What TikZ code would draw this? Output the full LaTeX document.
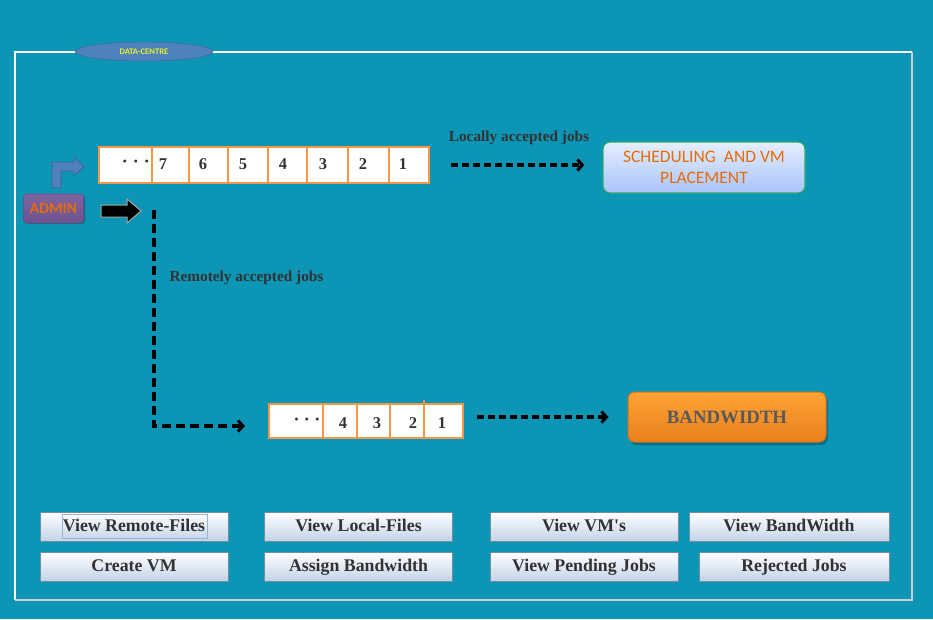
\documentclass[tikz,border=0pt]{standalone}
\usepackage{fontspec}
\setmainfont{Liberation Serif}
\newfontfamily\calib{Carlito}
\usetikzlibrary{arrows.meta,shapes.geometric}
\definecolor{bgc}{RGB}{12,149,180}
\definecolor{qorange}{RGB}{247,150,70}
\definecolor{txtgray}{RGB}{50,50,50}
\definecolor{blueacc}{RGB}{79,129,189}
\definecolor{bluedark}{RGB}{58,100,150}
\definecolor{ygreen}{RGB}{230,240,40}
\definecolor{orangetxt}{RGB}{228,108,10}
\definecolor{purp}{RGB}{128,100,162}
\definecolor{purpd}{RGB}{105,80,140}
\definecolor{btnbot}{RGB}{195,212,232}
\definecolor{btnedge}{RGB}{120,138,160}
\definecolor{schtop}{RGB}{230,238,255}
\definecolor{schbot}{RGB}{168,196,250}
\definecolor{schedge}{RGB}{46,168,104}
\definecolor{bwtop}{RGB}{255,163,52}
\definecolor{bwbot}{RGB}{232,128,30}
\definecolor{bwedge}{RGB}{215,115,25}
\definecolor{bwtxt}{RGB}{89,89,89}
\definecolor{framegray}{RGB}{200,208,215}
\begin{document}
\begin{tikzpicture}[x=1pt,y=-1pt,
  cell/.style={draw=qorange, line width=2pt, fill=white, inner sep=0pt, outer sep=0pt, minimum height=#1},
  num/.style={font=\bfseries\fontsize{16.5}{16.5}\selectfont, text=txtgray, inner sep=0pt},
  dots/.style={font=\bfseries\fontsize{18}{18}\selectfont, text=txtgray, inner sep=0pt},
  lbl/.style={font=\bfseries\fontsize{15.3}{15.3}\selectfont, text=txtgray, inner sep=0pt},
  btn/.style={draw=btnedge, line width=1pt, top color=white, bottom color=btnbot, inner sep=0pt,
    minimum width=188pt, text height=12.5pt, text depth=3.5pt,
    font=\bfseries\fontsize{17.8}{17.8}\selectfont, text=txtgray},
  dasharrow/.style={line width=3.2pt, dash pattern=on 7pt off 4pt, -{Straight Barb[length=5pt,width=11pt,line width=3pt]}}
]
\useasboundingbox (0,0) rectangle (933,619);
\fill[bgc] (0,0) rectangle (933,619);
% frame
\draw[white, line width=1.5pt] (15,600) -- (15,52) -- (912,52);
\draw[framegray, line width=1.5pt] (912,52) -- (912,600) -- (15,600);
% data-centre badge
\node[ellipse, draw=bluedark, fill=blueacc, minimum width=138pt, minimum height=19pt, inner sep=0pt,
  font=\calib\bfseries\fontsize{8.6}{8.6}\selectfont, text=ygreen] (dc) at (144,51.5) {DATA-CENTRE};

% top queue
\node[cell=36pt, minimum width=53pt] (q0) at (125.5,165) {};
\node[cell=36pt, minimum width=37pt] (q7) at (170.5,165) {};
\node[cell=36pt, minimum width=39pt] (q6) at (208.5,165) {};
\node[cell=36pt, minimum width=40pt] (q5) at (248,165) {};
\node[cell=36pt, minimum width=39pt] (q4) at (287.5,165) {};
\node[cell=36pt, minimum width=41pt] (q3) at (327.5,165) {};
\node[cell=36pt, minimum width=41pt] (q2) at (368.5,165) {};
\node[cell=36pt, minimum width=40pt] (q1) at (409,165) {};
\node[dots] (qd) at (136,164) {·\hspace{5pt}·\hspace{5pt}·};
\node[num] (n7) at (163,164) {7};
\node[num] (n6) at (203,164) {6};
\node[num] (n5) at (243,164) {5};
\node[num] (n4) at (283,164) {4};
\node[num] (n3) at (323,164) {3};
\node[num] (n2) at (363,164) {2};
\node[num] (n1) at (403,164) {1};

% bottom queue
\node[cell=34pt, minimum width=54pt] (r0) at (296,421) {};
\node[cell=34pt, minimum width=34pt] (r4) at (340,421) {};
\node[cell=34pt, minimum width=33pt] (r3) at (373.5,421) {};
\node[cell=34pt, minimum width=34pt] (r2) at (407,421) {};
\node[cell=34pt, minimum width=39pt] (r1) at (443.5,421) {};
\draw[qorange, line width=1.2pt] (424,400) -- (424,404);
\node[dots] (rd) at (307,422) {·\hspace{4.5pt}·\hspace{4.5pt}·};
\node[num] (m4) at (343,423) {4};
\node[num] (m3) at (377,423) {3};
\node[num] (m2) at (413,423) {2};
\node[num] (m1) at (442,423) {1};

% scheduling box
\node[draw=schedge, line width=1.2pt, rounded corners=7pt, top color=schtop, bottom color=schbot,
  minimum width=202pt, minimum height=51pt, inner sep=0pt, align=center,
  font=\calib\fontsize{17.5}{20.5}\selectfont, text=orangetxt] (sch) at (704,167.5)
  {SCHEDULING\ \ AND VM\\PLACEMENT};

% bandwidth box
\fill[black, opacity=0.25, rounded corners=7pt] (630,395) rectangle (828,445);
\node[draw=bwedge, line width=1pt, rounded corners=7pt, top color=bwtop, bottom color=bwbot,
  minimum width=198pt, minimum height=50pt, inner sep=0pt,
  font=\bfseries\fontsize{18.8}{18.8}\selectfont, text=bwtxt] (bw) at (727,417) {BANDWIDTH};

% admin
\fill[black, opacity=0.25, rounded corners=3pt] (25,195) rectangle (85,224);
\node[draw=purpd, line width=0.8pt, rounded corners=3pt, top color=purp, bottom color=purpd!90!purp,
  minimum width=60pt, minimum height=29pt, inner sep=0pt,
  font=\calib\bfseries\fontsize{15.5}{15.5}\selectfont, text=orangetxt] (admin) at (53.5,208.5) {ADMIN};
% blue bent arrow
\filldraw[fill=blueacc, draw=bluedark, line width=0.8pt]
  (52,188) -- (52,162) -- (74,162) -- (74,157) -- (84,166.5) -- (74,176) -- (74,171) -- (61,171) -- (61,188) -- cycle;
% black block arrow
\filldraw[fill=black, draw=gray!70, line width=1pt]
  (101,205) -- (127,205) -- (127,199) -- (141,211) -- (127,223) -- (127,217) -- (101,217) -- cycle;

% connectors
\coordinate (vtop) at (154,210);
\coordinate (vbend) at (154,426);
\draw[dasharrow, dash pattern=on 9pt off 5pt, line width=3.4pt] (vtop) -- (vbend) -- ([xshift=-24pt]r0.west |- vbend);
\draw[dasharrow] ([xshift=22pt]q1.east) -- ([xshift=-18pt]sch.west |- q1.east);
\draw[dasharrow] ([xshift=14pt]r1.east |- 0,417) -- ([xshift=-19pt]bw.west);
\node[lbl] (loc) at (519,138) {Locally accepted jobs};
\node[lbl] (rem) at (246.5,278) {Remotely accepted jobs};

% buttons
\node[btn, minimum height=29pt] (b1) at (134,526.5) {View Remote-Files};
\node[btn, minimum height=29pt] (b2) at (358.5,526.5) {View Local-Files};
\node[btn, minimum height=29pt] (b3) at (584,526.5) {View VM\textquotesingle s};
\node[btn, minimum height=29pt, minimum width=200pt] (b4) at (789,526.5) {View BandWidth};
\node[btn, minimum height=29pt] (b5) at (134,566.5) {Create VM};
\node[btn, minimum height=29pt] (b6) at (358.5,566.5) {Assign Bandwidth};
\node[btn, minimum height=29pt] (b7) at (584,566.5) {View Pending Jobs};
\node[btn, minimum height=29pt, minimum width=190pt] (b8) at (794,566.5) {Rejected Jobs};
\draw[blueacc!60!white, line width=0.8pt] (62,514) rectangle (207,538);
\end{tikzpicture}
\end{document}
